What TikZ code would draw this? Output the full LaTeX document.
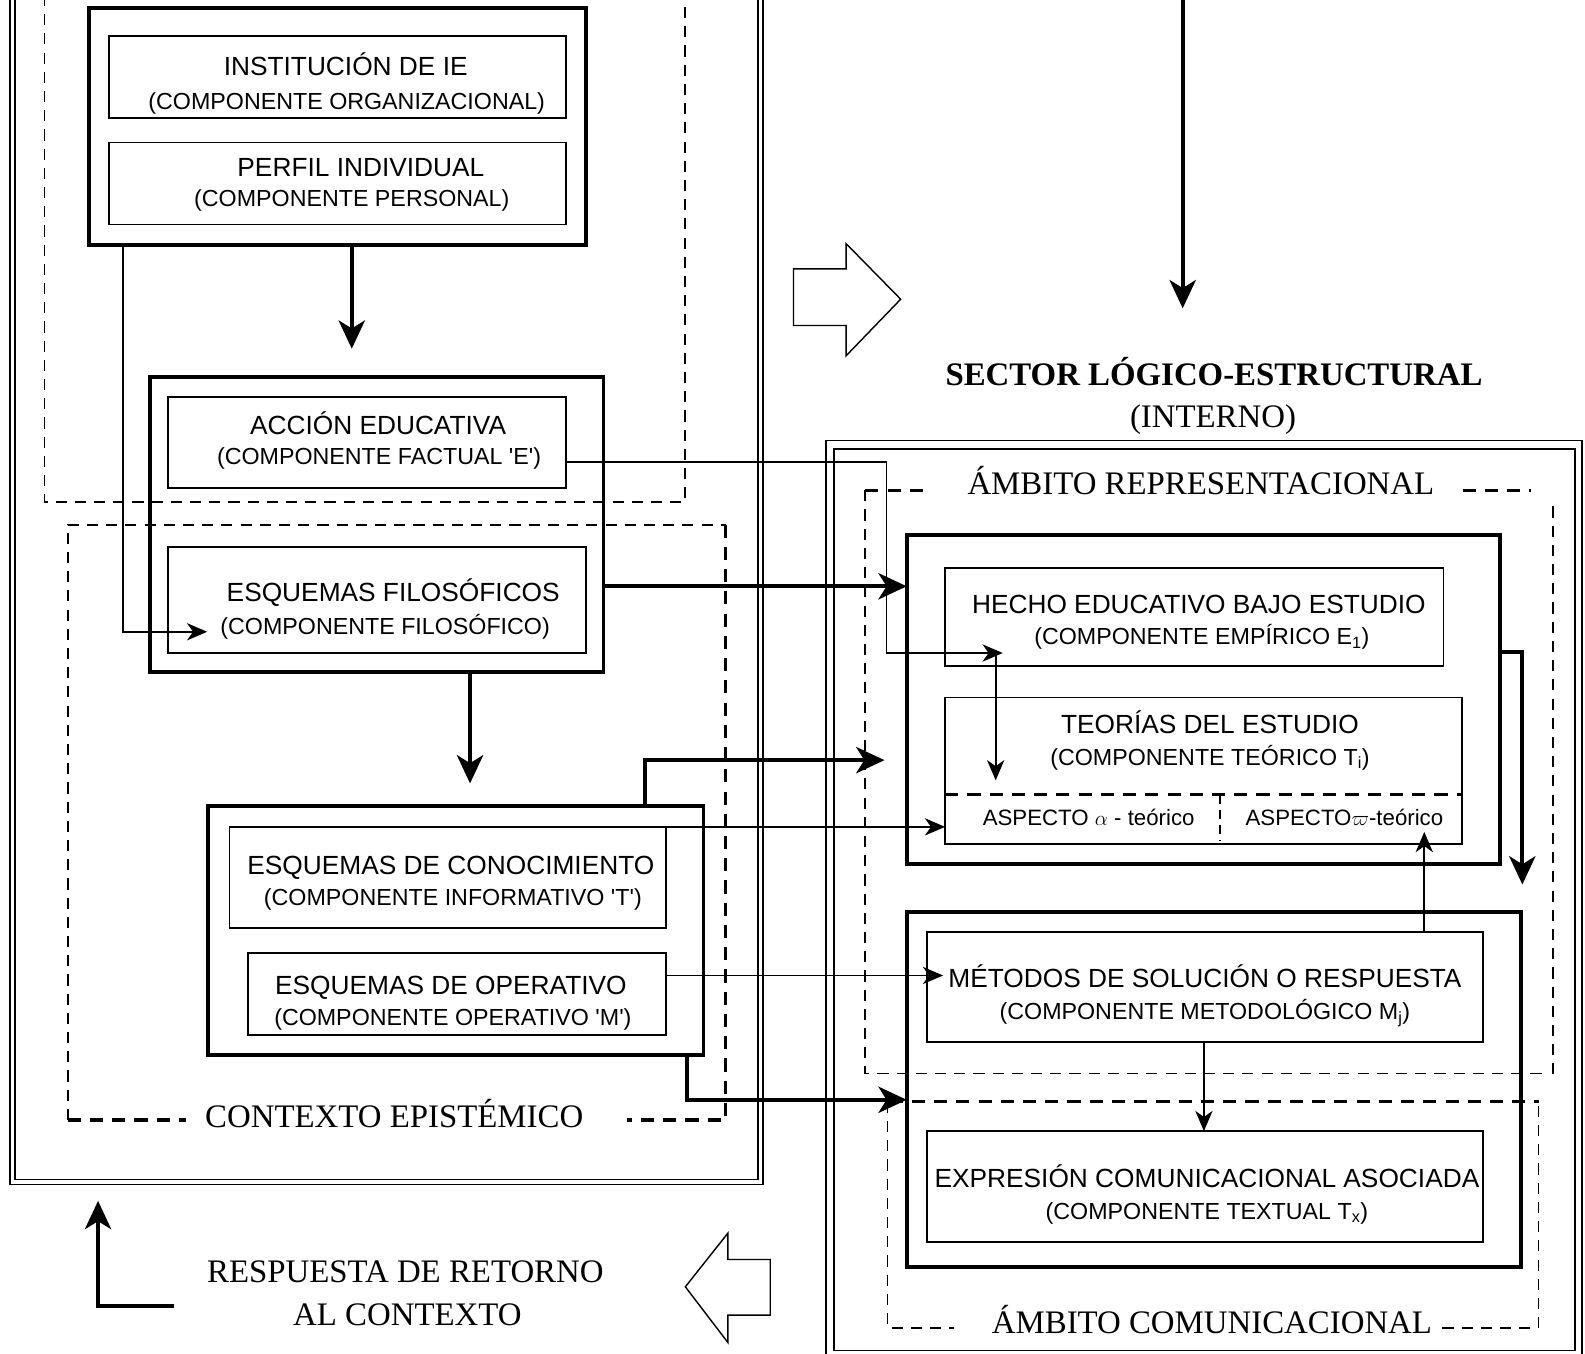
\documentclass[tikz,border=0pt]{standalone}
\usepackage{fontspec}
\setmainfont{Liberation Serif}
\newfontfamily\sansf{Liberation Sans}
\usetikzlibrary{arrows.meta}
\begin{document}
\begin{tikzpicture}[x=1pt,y=-1pt,
  grp/.style={draw,line width=3.8pt,inner sep=0pt,outer sep=0pt},
  cbox/.style={draw,line width=1.8pt,inner sep=0pt,outer sep=0pt},
  mtext/.style={anchor=base,inner sep=0pt,font=\sansf\fontsize{26}{30}\selectfont},
  stext/.style={anchor=base,inner sep=0pt,font=\sansf\fontsize{23}{28}\selectfont},
  atext/.style={anchor=base,inner sep=0pt,font=\sansf\fontsize{22}{26}\selectfont},
  ttext/.style={anchor=base,inner sep=0pt,font=\fontsize{32.5}{38}\selectfont},
  thickcon/.style={line width=3.8pt,-{Stealth[length=28pt,width=26pt,inset=8pt]}},
  thincon/.style={line width=1.8pt,-{Stealth[length=20pt,width=17pt,inset=6pt]}},
  thindash/.style={line width=1.8pt,dash pattern=on 11pt off 8pt},
  thickdash/.style={line width=3.2pt,dash pattern=on 13pt off 9pt},
  frameline/.style={line width=1.4pt},
  blockarrow/.style={line width=1.4pt,line join=miter}]

\fill[white] (0,0) rectangle (1568,1339);
\useasboundingbox (0,0) rectangle (1568,1339);

% ---------- double frames ----------
\draw[frameline] (10,-5) -- (10,1172) -- (755,1172) -- (755,-5);
\draw[frameline] (15,-5) -- (15,1167) -- (750,1167) -- (750,-5);
\draw[frameline] (817,1345) -- (817,436) -- (1565,436) -- (1565,1345);
\draw[frameline] (825,1336) -- (825,444) -- (1558,444) -- (1558,1336) -- cycle;

% ---------- dashed regions, left ----------
\draw[thindash] (44,-5) -- (44,497) -- (678,497) -- (678,-5);
\draw[thindash] (67,1108) -- (67,519) -- (718,519);
\draw[thickdash] (718,519) -- (718,1108) -- (620,1108);
\draw[thickdash] (67,1108) -- (184,1108);
\node[ttext] (ctxT) at (390,1115) {CONTEXTO EPISTÉMICO};

% ---------- dashed regions, right ----------
\draw[thickdash] (856,485) -- (921,485);
\draw[thickdash] (1447,485) -- (1515,485);
\draw[thindash] (856,485) -- (856,1062) -- (1526,1062);
\draw[thindash] (1536,501) -- (1536,1062);
\node[ttext] (repT) at (1188,489) {ÁMBITO REPRESENTACIONAL};

\draw[thickdash] (880,1090) -- (1522,1090);
\draw[thindash] (878,1090) -- (878,1314) -- (944,1314);
\draw[thindash] (1427,1314) -- (1522,1314) -- (1522,1090);
\node[ttext] (comT) at (1199,1319) {ÁMBITO COMUNICACIONAL};

% ---------- headings ----------
\node[ttext,font=\bfseries\fontsize{32.5}{38}\selectfont] (sector) at (1201,381) {SECTOR LÓGICO-ESTRUCTURAL};
\node[ttext] (interno) at (1200,423) {(INTERNO)};
\node[ttext] (resp1) at (401,1269) {RESPUESTA DE RETORNO};
\node[ttext] (resp2) at (403,1311) {AL CONTEXTO};

% ---------- hollow block arrows ----------
\draw[blockarrow] (785,266) -- (837,266) -- (837,241) -- (891,296) -- (837,352) -- (837,322) -- (785,322) -- cycle;
\draw[blockarrow] (762,1246) -- (720,1246) -- (720,1220) -- (678,1273) -- (720,1328) -- (720,1301) -- (762,1301) -- cycle;

% ---------- left side boxes ----------
\node[grp,minimum width=492pt,minimum height=234pt] (topgrp) at (334,125) {};
\node[cbox,minimum width=452pt,minimum height=81pt] (inst) at (334,76.5) {};
\node[mtext] (instA) at (342,75) {INSTITUCIÓN DE IE};
\node[stext] (instB) at (343,108) {(COMPONENTE ORGANIZACIONAL)};
\node[cbox,minimum width=452pt,minimum height=81pt] (perfil) at (334,181.5) {};
\node[mtext] (perfilA) at (357,175) {PERFIL INDIVIDUAL};
\node[stext] (perfilB) at (348,204) {(COMPONENTE PERSONAL)};

\node[grp,minimum width=449pt,minimum height=292pt] (accgrp) at (372.5,519) {};
\node[cbox,minimum width=394pt,minimum height=90pt] (accion) at (363,438) {};
\node[mtext] (accionA) at (374,430) {ACCIÓN EDUCATIVA};
\node[stext] (accionB) at (375,460) {(COMPONENTE FACTUAL 'E')};
\node[cbox,minimum width=414pt,minimum height=105pt] (filos) at (373,593.5) {};
\node[mtext] (filosA) at (389,595) {ESQUEMAS FILOSÓFICOS};
\node[stext] (filosB) at (381,628) {(COMPONENTE FILOSÓFICO)};

\node[grp,minimum width=490pt,minimum height=247pt] (esqgrp) at (451,920.5) {};
\node[cbox,minimum width=432pt,minimum height=100pt] (conoc) at (443,868) {};
\node[mtext] (conocA) at (446,865) {ESQUEMAS DE CONOCIMIENTO};
\node[stext] (conocB) at (448,896) {(COMPONENTE INFORMATIVO 'T')};
\node[cbox,minimum width=414pt,minimum height=81pt] (oper) at (452,983.5) {};
\node[mtext] (operA) at (446,984) {ESQUEMAS DE OPERATIVO};
\node[stext] (operB) at (448,1014) {(COMPONENTE OPERATIVO 'M')};

% ---------- right side boxes ----------
\node[grp,minimum width=587pt,minimum height=326pt] (repgrp) at (1190.5,692) {};
\node[cbox,minimum width=493pt,minimum height=97pt] (hecho) at (1181.5,610.5) {};
\node[mtext] (hechoA) at (1186,607) {HECHO EDUCATIVO BAJO ESTUDIO};
\node[stext] (hechoB) at (1189,638) {(COMPONENTE EMPÍRICO E\textsubscript{1})};
\node[cbox,minimum width=511pt,minimum height=145pt] (teor) at (1190.5,762.5) {};
\node[mtext] (teorA) at (1197,726) {TEORÍAS DEL ESTUDIO};
\node[stext] (teorB) at (1197,757) {(COMPONENTE TEÓRICO T\textsubscript{i})};
\coordinate (tsplit) at (0,786);
\draw[thickdash] (teor.west |- tsplit) -- (teor.east |- tsplit);
\draw[line width=1.8pt,dash pattern=on 9pt off 6pt] (1207,786) -- (1207,832);
\node[atext] (aspA) at (1077,817) {ASPECTO $\alpha$ - teórico};
\node[atext] (aspB) at (1330,817) {ASPECTO$\varpi$-teórico};

\node[grp,minimum width=608pt,minimum height=351pt] (comgrp) at (1201,1077.5) {};
\node[cbox,minimum width=550pt,minimum height=109pt] (metod) at (1192,976.5) {};
\node[mtext] (metodA) at (1192,977) {MÉTODOS DE SOLUCIÓN O RESPUESTA};
\node[stext] (metodB) at (1192,1009) {(COMPONENTE METODOLÓGICO M\textsubscript{j})};
\node[cbox,minimum width=550pt,minimum height=110pt] (expr) at (1192,1174) {};
\node[mtext] (exprA) at (1194,1175) {EXPRESIÓN COMUNICACIONAL ASOCIADA};
\node[stext] (exprB) at (1194,1206) {(COMPONENTE TEXTUAL T\textsubscript{x})};

% ---------- connectors ----------
\coordinate (pA) at (348,345);
\draw[thickcon] (topgrp.south -| pA) -- (pA);

\coordinate (pB1) at (122,625);
\coordinate (pB2) at (205,625);
\draw[thincon] (topgrp.south -| pB1) -- (pB1) -- (pB2);

\coordinate (pC1) at (877,457);
\coordinate (pC2) at (877,646);
\coordinate (pC3) at (992,646);
\draw[thincon] (accion.east |- pC1) -- (pC1) -- (pC2) -- (pC3);

\coordinate (pD0) at (985,646);
\coordinate (pD) at (985,772);
\draw[thincon] (pD0) -- (pD);

\coordinate (pE) at (0,580);
\draw[thickcon] (accgrp.east |- pE) -- (repgrp.west |- pE);

\coordinate (pF) at (465,775);
\draw[thickcon] (accgrp.south -| pF) -- (pF);

\coordinate (pG1) at (638,752);
\coordinate (pG2) at (875,752);
\draw[thickcon] (esqgrp.north -| pG1) -- (pG1) -- (pG2);

\draw[thincon] (conoc.north east) -- (teor.west |- conoc.north east);

\coordinate (pI) at (933,965);
\draw[thincon] (oper.east |- pI) -- (pI);

\coordinate (pJ1) at (680,1088);
\draw[thickcon] (esqgrp.south -| pJ1) -- (pJ1) -- (comgrp.west |- pJ1);

\coordinate (pK1) at (1506,645);
\coordinate (pK2) at (1506,875);
\draw[thickcon] (repgrp.east |- pK1) -- (pK1) -- (pK2);

\coordinate (pL) at (1409,823);
\draw[thincon] (metod.north -| pL) -- (pL);

\coordinate (pM) at (1191,0);
\draw[thincon] (metod.south -| pM) -- (expr.north -| pM);

\coordinate (pN0) at (1170,-5);
\coordinate (pN) at (1170,305);
\draw[thickcon] (pN0) -- (pN);

\coordinate (pO0) at (172,1292);
\coordinate (pO1) at (97,1292);
\coordinate (pO2) at (97,1188);
\draw[thickcon] (pO0) -- (pO1) -- (pO2);

\end{tikzpicture}
\end{document}
